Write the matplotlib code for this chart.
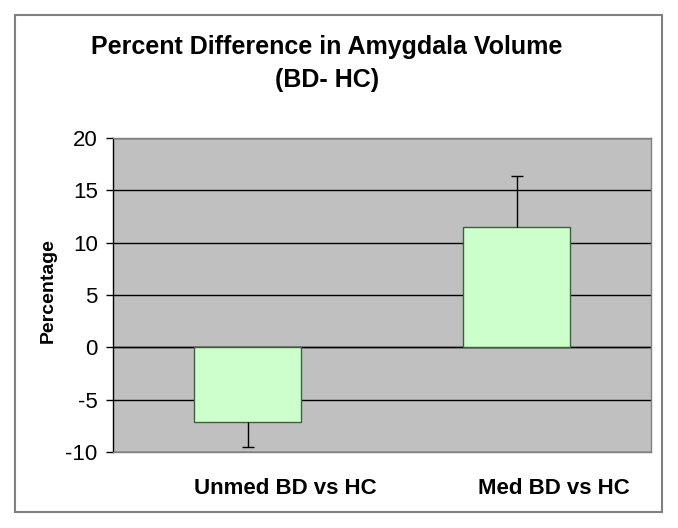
import matplotlib
matplotlib.use('Agg')
import matplotlib.pyplot as plt
from matplotlib.patches import Rectangle
import matplotlib.transforms as mtransforms

plt.rcParams['font.family'] = ['Liberation Sans', 'DejaVu Sans']

# Data
categories = ['Unmed BD vs HC', 'Med BD vs HC']
values = [-7.1, 11.5]
err = [2.4, 4.9]        # error bar drawn only away from zero
y_ticks = [-10, -5, 0, 5, 10, 15, 20]

fig = plt.figure(figsize=(6.78, 5.28), dpi=100)

# outer chart frame
fig.patches.append(Rectangle((14.5 / 678, 1 - 512 / 528), (662 - 14.5) / 678, (512 - 14.5) / 528,
                             transform=fig.transFigure, fill=False, edgecolor='#808080', linewidth=1.5))

ax = fig.add_axes([113 / 678, 1 - 452 / 528, (651 - 113) / 678, (452 - 138) / 528])
ax.set_facecolor('#C0C0C0')

x = list(range(len(categories)))
ax.bar(x, values, width=0.4, color='#CCFFCC', edgecolor='#3F5F3F', linewidth=1.0, zorder=3)

# one-sided error bars: whisker from bar end outward, cap at the end
ends = [v + e if v >= 0 else v - e for v, e in zip(values, err)]
ax.vlines(x, values, ends, color='black', linewidth=1.0, zorder=4)
ax.plot(x, ends, linestyle='none', marker='_', markersize=9, markeredgewidth=1.0,
        color='black', zorder=4)

ax.set_xlim(-0.5, 1.5)
ax.set_ylim(-10, 20)
ax.set_yticks(y_ticks)
ax.set_yticklabels([str(t) for t in y_ticks], fontsize=16)
ax.tick_params(axis='y', direction='out', length=5, width=1, pad=6)
ax.set_xticks([])

ax.grid(axis='y', color='black', linewidth=1.0, zorder=0)
ax.set_axisbelow(True)
ax.axhline(0, color='black', linewidth=1.0, zorder=2)

for side in ['top', 'right', 'bottom']:
    ax.spines[side].set_color('#808080')
    ax.spines[side].set_linewidth(1.0)
ax.spines['left'].set_color('black')
ax.spines['left'].set_linewidth(1.0)

fig.text(48 / 678, 1 - 291 / 528, 'Percentage', rotation=90, ha='center', va='center',
         fontsize=14, fontweight='bold')

# category labels sit slightly right of the bars, as in the original
trans = mtransforms.blended_transform_factory(ax.transData, fig.transFigure)
for i, name in enumerate(categories):
    ax.text(i + 0.14, 1 - 489 / 528, name, transform=trans, ha='center', va='center',
            fontsize=16, fontweight='bold')

fig.text(327 / 678, 1 - 47 / 528, 'Percent Difference in Amygdala Volume', ha='center', va='center',
         fontsize=18, fontweight='bold')
fig.text(327 / 678, 1 - 80 / 528, '(BD- HC)', ha='center', va='center',
         fontsize=18, fontweight='bold')

fig.savefig('out.png', dpi=100)
